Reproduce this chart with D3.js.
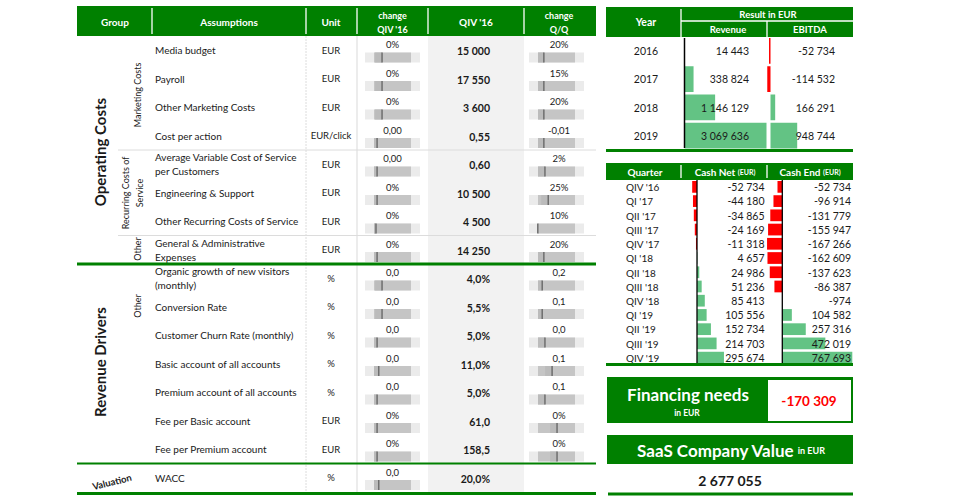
<!DOCTYPE html>
<html><head><meta charset="utf-8">
<script src="https://cdn.jsdelivr.net/npm/d3@7"></script>
<style>body{margin:0;background:#fff;} svg{display:block;font-family:Lato,'Open Sans',sans-serif;}</style>
</head><body><svg id="c" width="956" height="501"></svg>
<script>
// ---------- DATA ----------
const headerLabels = [["Group"],["Assumptions"],["Unit"],["change","QIV '16"],["QIV '16"],["change","Q/Q"]];
const assumptions = ["Media budget","Payroll","Other Marketing Costs","Cost per action",
  "Average Variable Cost of Service\nper Customers","Engineering & Support","Other Recurring Costs of Service",
  "General & Administrative\nExpenses","Organic growth of new visitors\n(monthly)","Conversion Rate",
  "Customer Churn Rate (monthly)","Basic account of all accounts","Premium account of all accounts",
  "Fee per Basic account","Fee per Premium account","WACC"];
const units = ["EUR","EUR","EUR","EUR/click","EUR","EUR","EUR","EUR","%","%","%","%","%","EUR","EUR","%"];
const changeQIV = ["0%","0%","0%","0,00","0,00","0%","0%","0%","0,0","0,0","0,0","0,0","0,0","0%","0%","0,0"];
const changeQIVPos = [0.31,0.31,0.31,0.22,0.22,0.22,0.2,0.22,0.31,0.31,0.22,0.25,0.22,0.22,0.22,0.25];
const qiv16 = ["15 000","17 550","3 600","0,55","0,60","10 500","4 500","14 250","4,0%","5,5%","5,0%","11,0%","5,0%","61,0","158,5","20,0%"];
const changeQQ = ["20%","15%","20%","-0,01","2%","25%","10%","20%","0,2","0,1","0,0","0,1","0,1","0%","0%",null];
const changeQQPos = [0.27,0.27,0.27,0.27,0.29,0.35,0.16,0.27,0.24,0.24,0.29,0.42,0.29,0.51,0.51,null];

const years = ["2016","2017","2018","2019"];
const revenue = [14443,338824,1146129,3069636];
const ebitda = [-52734,-114532,166291,948744];

const quarters = ["QIV '16","QI '17","QII '17","QIII '17","QIV '17","QI '18","QII '18","QIII '18","QIV '18","QI '19","QII '19","QIII '19","QIV '19"];
const cashNet = [-52734,-44180,-34865,-24169,-11318,4657,24986,51236,85413,105556,152734,214703,295674];
const cashEnd = [-52734,-96914,-131779,-155947,-167266,-162609,-137623,-86387,-974,104582,257316,472019,767693];

const financingNeeds = -170309;
const companyValue = 2677055;

// ---------- DRAW ----------
const G = "#008000", BAR_G = "#63c384", BAR_R = "#ff0000", TXT = "#1a1a1a";
const fmt = d3.formatLocale({decimal:",",thousands:"\u00a0",grouping:[3],currency:["",""],minus:"-"}).format(",d");
const svg = d3.select("#c");

function txt(g, x, y, s, o = {}) {
  return g.append("text").attr("x", x).attr("y", y).text(s)
    .attr("font-size", o.size || 10).attr("font-weight", o.bold ? 700 : 400)
    .attr("fill", o.fill || TXT).attr("text-anchor", o.anchor || "start")
    .attr("dominant-baseline", "central");
}
function line(x1, y1, x2, y2, stroke, w, dash) {
  const l = svg.append("line").attr("x1", x1).attr("y1", y1).attr("x2", x2).attr("y2", y2)
    .attr("stroke", stroke).attr("stroke-width", w);
  if (dash) l.attr("stroke-dasharray", dash);
  return l;
}

// ===== Left table =====
const rowY = d3.scaleLinear().domain([0, assumptions.length]).range([36, 492]);
const colEdges = [77, 152, 306, 357, 428, 524, 596];
const colCenters = [115, 229, 331, 392.5, 476, 559];

svg.append("rect").attr("x", 428).attr("y", 36).attr("width", 96).attr("height", 456).attr("fill", "#f2f2f2");
svg.append("rect").attr("x", 77).attr("y", 6).attr("width", 519).attr("height", 30).attr("fill", G);
colEdges.slice(1, -1).forEach(x => line(x, 8, x, 34, "#fff", 1.3));
headerLabels.forEach((lab, i) => {
  if (lab.length === 1) txt(svg, colCenters[i], 21.5, lab[0], {bold: true, fill: "#fff", anchor: "middle", size: 10});
  else lab.forEach((s, j) => txt(svg, colCenters[i], 15 + j * 14, s, {bold: true, fill: "#fff", anchor: "middle", size: 9}));
});

// light grid
line(306, 36, 306, 492, "#dcdcdc", 1, "2,1");
line(357, 36, 357, 492, "#e6e6e6", 1.5);
line(118, rowY(4), 596, rowY(4), "#dcdcdc", 1);
line(118, rowY(7), 596, rowY(7), "#dcdcdc", 1);

// group labels
function rot(x, y, s, size, bold, angle) {
  svg.append("text").attr("transform", `translate(${x},${y}) rotate(${angle})`).text(s)
    .attr("font-size", size).attr("font-weight", bold ? 700 : 400).attr("fill", TXT)
    .attr("text-anchor", "middle").attr("dominant-baseline", "central");
}
rot(100, 152, "Operating Costs", 15, true, -90);
rot(100, 362, "Revenue Drivers", 15, true, -90);
rot(137, 95, "Marketing Costs", 9, false, -90);
rot(125, 193, "Recurring Costs of", 9, false, -90);
rot(139, 193, "Service", 9, false, -90);
rot(137, 249, "Other", 9, false, -90);
rot(137, 306, "Other", 9, false, -90);
rot(112, 482, "Valuation", 9.5, true, -14);

function slider(x0, y0, frac) {
  const w = 55, h = 10;
  svg.append("rect").attr("x", x0).attr("y", y0).attr("width", w).attr("height", h).attr("fill", "#ebebeb");
  svg.append("rect").attr("x", x0 + 9).attr("y", y0).attr("width", w - 18).attr("height", h).attr("fill", "#c5c5c5");
  const mx = x0 + frac * w;
  svg.append("rect").attr("x", Math.max(x0 + 9, mx - 7)).attr("y", y0).attr("width", mx - Math.max(x0 + 9, mx - 7)).attr("height", h).attr("fill", "#bbbbbb");
  svg.append("rect").attr("x", mx - 0.75).attr("y", y0).attr("width", 1.5).attr("height", h).attr("fill", "#6e6e6e");
}

assumptions.forEach((a, i) => {
  const top = rowY(i), cy = rowY(i + 0.5);
  const lines = a.split("\n");
  lines.forEach((s, j) => {
    const yy = lines.length === 1 ? cy : cy - 7 + j * 14;
    txt(svg, 155, yy, s, {size: 10});
  });
  txt(svg, colCenters[2], cy, units[i], {size: 9.5, anchor: "middle"});
  txt(svg, 392.5, top + 8.5, changeQIV[i], {size: 9.5, anchor: "middle"});
  slider(365, top + 16.5, changeQIVPos[i]);
  txt(svg, 490, cy + 1, qiv16[i], {size: 10.5, bold: true, anchor: "end"});
  if (changeQQ[i] !== null) {
    txt(svg, 559, top + 8.5, changeQQ[i], {size: 9.5, anchor: "middle"});
    slider(529, top + 16.5, changeQQPos[i]);
  }
});

line(77, rowY(8), 596, rowY(8), G, 3);
line(77, rowY(15), 596, rowY(15), G, 2);
line(77, 493.5, 596, 493.5, G, 3);

// ===== Year table =====
svg.append("rect").attr("x", 606).attr("y", 7).attr("width", 247).attr("height", 30).attr("fill", G);
line(681, 9, 681, 37, "#fff", 1.3);
line(681, 21, 853, 21, "#fff", 1.3);
line(767, 21, 767, 37, "#fff", 1.3);
txt(svg, 646, 22, "Year", {bold: true, fill: "#fff", anchor: "middle", size: 10.5});
txt(svg, 768, 14.5, "Result in EUR", {bold: true, fill: "#fff", anchor: "middle", size: 9.5});
txt(svg, 728, 29.5, "Revenue", {bold: true, fill: "#fff", anchor: "middle", size: 9.5});
txt(svg, 810, 29.5, "EBITDA", {bold: true, fill: "#fff", anchor: "middle", size: 9.5});

const yrBand = d3.scaleBand().domain(years).range([37, 150]);
const revX = d3.scaleLinear().domain([0, d3.max(revenue)]).range([684.5, 766.5]);
const ebX = d3.scaleLinear().domain([0, d3.max(ebitda)]).range([770.5, 797.2]);

svg.selectAll(".rev").data(years).join("rect")
  .attr("x", revX(0)).attr("y", d => yrBand(d) + 1)
  .attr("width", (d, i) => revX(revenue[i]) - revX(0)).attr("height", yrBand.bandwidth() - 2.5).attr("fill", BAR_G);
svg.selectAll(".eb").data(years).join("rect")
  .attr("x", (d, i) => Math.min(ebX(0), ebX(ebitda[i]))).attr("y", d => yrBand(d) + 1)
  .attr("width", (d, i) => Math.abs(ebX(ebitda[i]) - ebX(0))).attr("height", yrBand.bandwidth() - 2.5)
  .attr("fill", (d, i) => ebitda[i] < 0 ? BAR_R : BAR_G);
line(revX(0), 38, revX(0), 148, "#000", 1.5);
years.forEach((y, i) => {
  const cy = yrBand(y) + yrBand.bandwidth() / 2;
  txt(svg, 646, cy, y, {size: 10.5, anchor: "middle"});
  txt(svg, 749, cy, fmt(revenue[i]), {size: 10.5, anchor: "end"});
  txt(svg, 835, cy, fmt(ebitda[i]), {size: 10.5, anchor: "end"});
});
line(606, 150.5, 853, 150.5, G, 3);

// ===== Cash table =====
svg.append("rect").attr("x", 606).attr("y", 163).attr("width", 247).attr("height", 17).attr("fill", G);
line(681, 165, 681, 178, "#fff", 1.3);
line(767, 165, 767, 178, "#fff", 1.3);
txt(svg, 645, 171.5, "Quarter", {bold: true, fill: "#fff", anchor: "middle", size: 10});
const hn = txt(svg, 725, 171.5, "Cash Net ", {bold: true, fill: "#fff", anchor: "middle", size: 10});
hn.append("tspan").attr("font-size", 7).text("(EUR)");
const he = txt(svg, 810, 171.5, "Cash End ", {bold: true, fill: "#fff", anchor: "middle", size: 10});
he.append("tspan").attr("font-size", 7).text("(EUR)");

const qBand = d3.scaleBand().domain(quarters).range([180, 365]);
const cashW = d3.scaleLinear().domain([0, d3.max(cashEnd)]).range([0, 70]);
const netAxis = 697, endAxis = 782.3;
svg.selectAll(".cn").data(quarters).join("rect")
  .attr("x", (d, i) => cashNet[i] < 0 ? netAxis - cashW(-cashNet[i]) : netAxis)
  .attr("y", d => qBand(d) + 1).attr("width", (d, i) => cashW(Math.abs(cashNet[i])))
  .attr("height", qBand.bandwidth() - 2.5).attr("fill", (d, i) => cashNet[i] < 0 ? BAR_R : BAR_G);
svg.selectAll(".ce").data(quarters).join("rect")
  .attr("x", (d, i) => cashEnd[i] < 0 ? endAxis - cashW(-cashEnd[i]) : endAxis)
  .attr("y", d => qBand(d) + 1).attr("width", (d, i) => cashW(Math.abs(cashEnd[i])))
  .attr("height", qBand.bandwidth() - 2.5).attr("fill", (d, i) => cashEnd[i] < 0 ? BAR_R : BAR_G);
line(netAxis, 180, netAxis, 363, "#000", 1.3);
line(endAxis, 180, endAxis, 363, "#000", 1.3);
quarters.forEach((q, i) => {
  const cy = qBand(q) + qBand.bandwidth() / 2;
  txt(svg, 626, cy, q, {size: 10});
  txt(svg, 764.5, cy, fmt(cashNet[i]), {size: 10.5, anchor: "end"});
  txt(svg, 851, cy, fmt(cashEnd[i]), {size: 10.5, anchor: "end"});
});
line(606, 364.5, 853, 364.5, G, 3);

// ===== KPI boxes =====
svg.append("rect").attr("x", 607).attr("y", 377).attr("width", 246).attr("height", 46).attr("fill", G);
svg.append("rect").attr("x", 768).attr("y", 380).attr("width", 83).attr("height", 41).attr("fill", "#fff");
txt(svg, 688, 394, "Financing needs", {bold: true, fill: "#fff", anchor: "middle", size: 17});
txt(svg, 687, 413, "in EUR", {bold: true, fill: "#fff", anchor: "middle", size: 8.5});
txt(svg, 809, 401, fmt(financingNeeds), {bold: true, fill: "#ff0000", anchor: "middle", size: 13.5});

svg.append("rect").attr("x", 607).attr("y", 435).attr("width", 246).attr("height", 29).attr("fill", G);
const sv = txt(svg, 731, 450, "SaaS Company Value ", {bold: true, fill: "#fff", anchor: "middle", size: 17});
sv.append("tspan").attr("font-size", 9).text("in EUR");
txt(svg, 730, 480, fmt(companyValue), {bold: true, anchor: "middle", size: 14});
line(608, 494, 853, 494, G, 3);
</script></body></html>
